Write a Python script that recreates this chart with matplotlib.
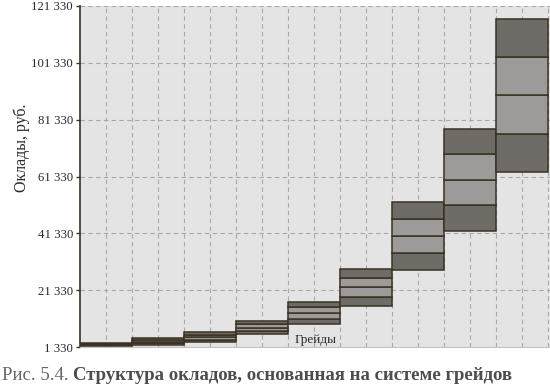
import numpy as np
import matplotlib
matplotlib.use('Agg')
import matplotlib.pyplot as plt

# Salary ranges per grade (rub.)
grades = np.arange(1, 10)
salary_min = [1650, 2030, 3090, 5900, 9420, 15760, 28430, 42160, 62930]
salary_max = [2700, 4500, 6600, 10480, 17170, 28800, 52370, 78070, 116790]
y_ticks = [1330, 21330, 41330, 61330, 81330, 101330, 121330]

dark = '#6f6b67'
light = '#9d9b99'
edge = '#3a3222'

plt.rcParams['font.family'] = ['Liberation Serif', 'DejaVu Serif']

fig = plt.figure(figsize=(5.5, 3.85), dpi=100)
ax = fig.add_axes([80 / 550, 38 / 385, 470 / 550, 341 / 385])
ax.set_facecolor('#e4e4e4')

# each grade is split into 4 equal steps: dark, light, light, dark
for i, g in enumerate(grades):
    lo, hi = salary_min[i], salary_max[i]
    step = (hi - lo) / 4
    for k, c in enumerate([dark, light, light, dark]):
        ax.bar(g - 1, step, bottom=lo + k * step, width=1, align='edge',
               color=c, edgecolor=edge, linewidth=1.1, zorder=3)

ax.set_xlim(0, 9 * 470 / 468)
ax.set_ylim(y_ticks[0], y_ticks[-1])
ax.set_yticks(y_ticks)
ax.set_yticklabels([f'{v:,}'.replace(',', ' ') for v in y_ticks], fontsize=9.2, color='#2a2a2a')
ax.set_xticks(np.arange(0.5, 9.01, 0.5))
ax.tick_params(axis='x', length=0, labelbottom=False)
ax.tick_params(axis='y', length=3, width=1, color=edge, pad=2)

ax.grid(True, color='#a9a9a9', linestyle=(0, (4, 3)), linewidth=0.8, zorder=1)
ax.set_axisbelow(True)

for s in ['top', 'right']:
    ax.spines[s].set_visible(False)
ax.spines['left'].set_color(edge)
ax.spines['left'].set_linewidth(1.2)
ax.spines['bottom'].set_color('#c4c4c4')

ax.text(0.502, 0.004, 'Грейды', transform=ax.transAxes, ha='center', va='bottom',
        fontsize=9.5, color='#2a2a2a', zorder=4)
fig.text(22 / 550, 1 - 148 / 385, 'Оклады, руб.', rotation=90, ha='center', va='center',
         fontsize=11.5, color='#2a2a2a')

t1 = fig.text(2 / 550, 1 - 380 / 385, 'Рис. 5.4. ', fontsize=13.5, color='#666666', va='baseline')
fig.canvas.draw()
bb = t1.get_window_extent()
fig.text(bb.x1 / fig.bbox.width, 1 - 380 / 385, 'Структура окладов, основанная на системе грейдов',
         fontsize=13.5, fontweight='bold', color='#4d4d4d', va='baseline')

fig.savefig('out.png', dpi=100)
